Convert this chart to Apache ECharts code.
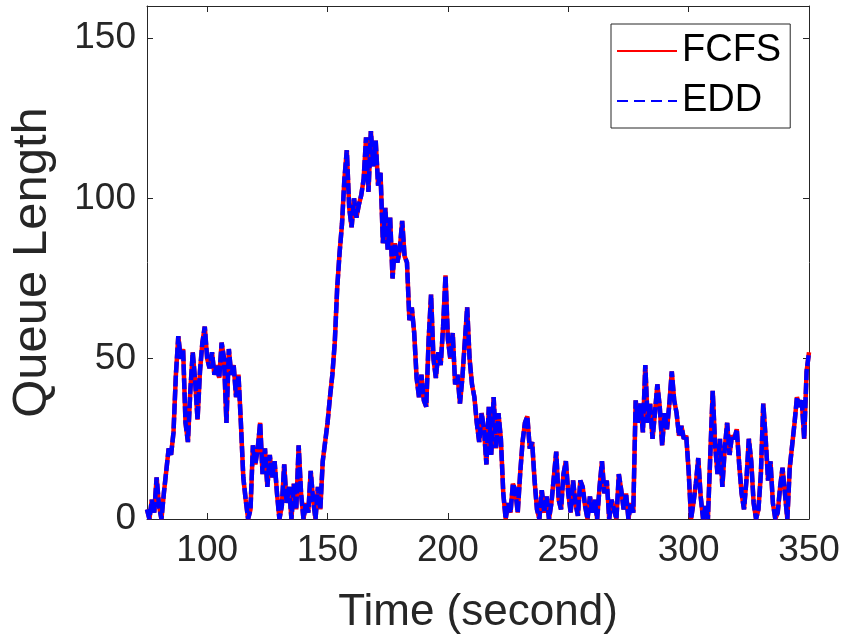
<!DOCTYPE html>
<html>
<head>
<meta charset="utf-8">
<script src="https://cdn.jsdelivr.net/npm/echarts@6/dist/echarts.min.js"></script>
<style>html,body{margin:0;padding:0;background:#fff;}#c{width:845px;height:640px;}</style>
</head>
<body>
<div id="c"></div>
<script>
// ---- data (one sample per second from t = 75 s) ----
const timeStart = 75;
const fcfsValues = [
 3,0,6,2,13,4,0,8,15,22, 20,27,45,57,50,53,30,24,40,52,
 43,31,46,55,60,50,47,52,45,48, 44,55,50,30,53,45,48,38,45,30,
 13,6,0,3,23,17,22,30,14,22, 10,20,13,18,8,0,4,17,5,10,
 0,11,3,23,8,0,5,2,15,6, 0,10,3,18,24,30,38,45,55,72,
 83,92,106,115,97,91,100,94,98,101, 106,119,102,121,110,118,104,108,86,97,
 84,94,75,86,80,84,93,82,80,62, 66,58,44,38,45,37,35,56,70,50,
 44,52,48,60,76,56,50,58,42,45, 36,44,55,66,50,42,38,30,24,33,
 28,17,35,20,38,22,33,25,8,0, 5,2,11,9,2,14,24,30,32,22,
 24,12,3,0,9,2,7,0,5,13, 21,6,3,14,18,8,2,12,5,1,
 12,10,4,0,7,2,6,0,10,18, 8,12,0,6,3,0,14,9,3,8,
 0,5,2,37,30,36,27,48,30,36, 25,33,42,35,23,33,28,36,46,37,
 33,26,29,25,26,15,0,5,11,19, 7,0,4,0,20,40,23,14,25,10,
 22,30,20,26,25,28,17,8,3,12, 25,18,5,0,3,14,36,25,12,18,
 5,0,2,10,16,8,0,16,23,30, 38,35,37,25,46,52
];
const eddValues = [
 3,0,6,2,13,4,0,8,15,22, 20,27,45,57,50,53,30,24,40,52,
 43,31,46,55,60,50,47,52,45,48, 44,55,50,30,53,45,48,38,45,30,
 13,6,0,3,23,17,22,30,14,22, 10,20,13,18,8,0,4,17,5,10,
 0,11,3,23,8,0,5,2,15,6, 0,10,3,18,24,30,38,45,55,72,
 83,92,106,115,97,91,100,94,98,101, 106,119,102,121,110,118,104,108,86,97,
 84,94,75,86,80,84,93,82,80,62, 66,58,44,38,45,37,35,56,70,50,
 44,52,48,60,76,56,50,58,42,45, 36,44,55,66,50,42,38,30,24,33,
 28,17,35,20,38,22,33,25,8,0, 5,2,11,9,2,14,24,30,32,22,
 24,12,3,0,9,2,7,0,5,13, 21,6,3,14,18,8,2,12,5,1,
 12,10,4,0,7,2,6,0,10,18, 8,12,0,6,3,0,14,9,3,8,
 0,5,2,37,30,36,27,48,30,36, 25,33,42,35,23,33,28,36,46,37,
 33,26,29,25,26,15,0,5,11,19, 7,0,4,0,20,40,23,14,25,10,
 22,30,20,26,25,28,17,8,3,12, 25,18,5,0,3,14,36,25,12,18,
 5,0,2,10,16,8,0,16,23,30, 38,35,37,25,46,52
];
const seriesNames = ['FCFS', 'EDD'];
const xTickValues = [100, 150, 200, 250, 300, 350];
const yTickValues = [0, 50, 100, 150];
const xRange = [75, 350];
const yRange = [0, 160];

// ---- build ----
const toPairs = vals => vals.map((v, i) => [timeStart + i, v]);
const ink = '#262626';
const font = 'Liberation Sans, Arial, Helvetica, sans-serif';
const solidIcon = 'path://M0,0h60v2h-60z';
const dashIcon = 'path://M0,0h11v2h-11z M17,0h11v2h-11z M34,0h11v2h-11z M51,0h9v2h-9z';

const chart = echarts.init(document.getElementById('c'), null, {renderer: 'canvas'});
const baseX = {
  type: 'value', min: xRange[0], max: xRange[1],
  axisLine: {show: true, onZero: false, lineStyle: {color: ink, width: 1}},
  axisTick: {show: true, inside: true, length: 6, customValues: xTickValues, lineStyle: {color: ink}},
  splitLine: {show: false}
};
const baseY = {
  type: 'value', min: yRange[0], max: yRange[1],
  axisLine: {show: true, onZero: false, lineStyle: {color: ink, width: 1}},
  axisTick: {show: true, inside: true, length: 6, customValues: yTickValues, lineStyle: {color: ink}},
  splitLine: {show: false}
};
chart.setOption({
  animation: false,
  backgroundColor: '#ffffff',
  grid: {left: 140, right: 36, top: 6, bottom: 121, containLabel: false},
  legend: {
    orient: 'vertical', left: 611, top: 24,
    data: [
      {name: seriesNames[0], icon: solidIcon, itemStyle: {color: '#ff0000'}},
      {name: seriesNames[1], icon: dashIcon, itemStyle: {color: '#0000ff'}}
    ],
    backgroundColor: '#ffffff',
    borderColor: ink, borderWidth: 1,
    padding: [8, 9, 8, 6],
    itemWidth: 60, itemHeight: 2, itemGap: 12,
    textStyle: {fontFamily: font, fontSize: 38, color: '#000'}
  },
  xAxis: [
    Object.assign({}, baseX, {
      position: 'bottom',
      name: 'Time (second)', nameLocation: 'middle', nameGap: 72,
      nameTextStyle: {fontFamily: font, fontSize: 44, color: ink},
      axisLabel: {show: true, customValues: xTickValues, margin: 13, fontFamily: font, fontSize: 37, color: ink}
    }),
    Object.assign({}, baseX, {position: 'top', axisLabel: {show: false}})
  ],
  yAxis: [
    Object.assign({}, baseY, {
      position: 'left',
      name: 'Queue Length', nameLocation: 'middle', nameGap: 90,
      nameTextStyle: {fontFamily: font, fontSize: 49, color: ink},
      axisLabel: {show: true, customValues: yTickValues, margin: 11, fontFamily: font, fontSize: 37, color: ink}
    }),
    Object.assign({}, baseY, {position: 'right', axisLabel: {show: false}})
  ],
  series: [
    {
      name: seriesNames[0], type: 'line', xAxisIndex: 0, yAxisIndex: 0,
      data: toPairs(fcfsValues), showSymbol: false, symbol: 'none',
      lineStyle: {color: '#ff0000', width: 4.5, type: 'solid'},
      itemStyle: {color: '#ff0000'}
    },
    {
      name: seriesNames[1], type: 'line', xAxisIndex: 0, yAxisIndex: 0,
      data: toPairs(eddValues), showSymbol: false, symbol: 'none',
      lineStyle: {color: '#0000ff', width: 4.5, type: [11, 3]},
      itemStyle: {color: '#0000ff'}
    }
  ]
});
</script>
</body>
</html>
